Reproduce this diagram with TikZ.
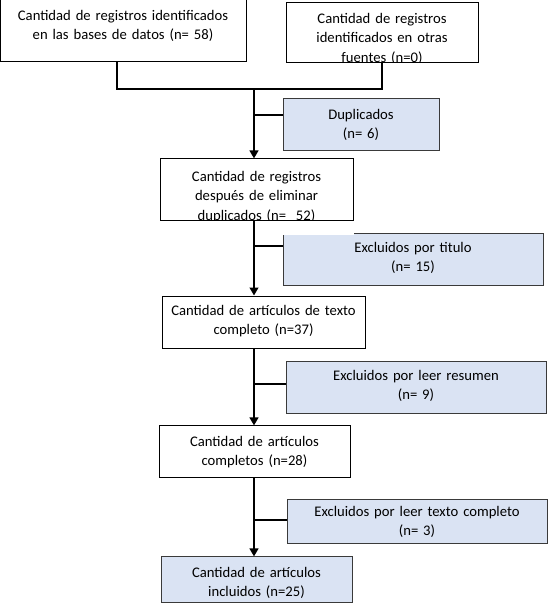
\documentclass[tikz,border=0pt]{standalone}
\usepackage{fontspec}
\setmainfont{Carlito}
\usepackage{tikz}
\usetikzlibrary{arrows.meta,calc}
\definecolor{boxblue}{HTML}{DAE3F3}
\definecolor{edge}{HTML}{3A3A3A}

\begin{document}
\begin{tikzpicture}[x=0.75pt,y=-0.75pt,
  box/.style={draw=black,line width=.75pt,fill=white,inner sep=0pt,align=center,anchor=base,font=\fontsize{11}{14.5}\selectfont},
  bluebox/.style={box,draw=edge,fill=boxblue},
  conn/.style={line width=2pt},
  arr/.style={conn,-{Triangle[length=6pt,width=6.5pt]}}]
  \useasboundingbox (0,0) rectangle (550,608);
  \node[box,text width=184.5pt,text height=15.4pt,text depth=31.1pt] (bases) at (123,20.5) {Cantidad de registros identificados\\en las bases de datos (n= 58)};
  \node[box,text width=144pt,text height=16.1pt,text depth=28.9pt] (otras) at (382,23.5) {Cantidad de registros\\identificados en otras\\fuentes (n=0)};
  \node[bluebox,text width=117pt,text height=15.4pt,text depth=22.9pt] (dup) at (361,119.5) {Duplicados\\(n= 6)};
  \node[box,text width=144.75pt,text height=16.9pt,text depth=28.9pt] (reg) at (256.5,181.5) {Cantidad de registros\\después de eliminar\\duplicados (n=\ \ 52)};
  \node[bluebox,text width=195pt,text height=14.6pt,text depth=24.4pt] (titulo) at (413,252.5) {Excluidos por titulo\\(n= 15)};
  \node[box,text width=152.25pt,text height=14.6pt,text depth=25.1pt] (texto) at (263.5,315.5) {Cantidad de artículos de texto\\completo (n=37)};
  \node[bluebox,text width=195pt,text height=13.9pt,text depth=24.4pt] (resumen) at (416,380.5) {Excluidos por leer resumen\\(n= 9)};
  \node[box,text width=143.25pt,text height=15.4pt,text depth=23.6pt] (compl) at (254.5,446.5) {Cantidad de artículos\\completos (n=28)};
  \node[bluebox,text width=195pt,text height=13.1pt,text depth=20.6pt] (leer) at (417,516.5) {Excluidos por leer texto completo\\(n= 3)};
  \node[bluebox,text width=143.25pt,text height=15.4pt,text depth=19.1pt] (incl) at (256.5,577.5) {Cantidad de artículos\\incluidos (n=25)};
  \foreach \b in {otras,reg}
    \fill[white] ($(\b.south west)+(0,0.5)$) rectangle ($(\b.south east)+(0,14)$);
  \coordinate (j) at (254,89);
  \draw[conn] ($(bases.south)+(-6,0)$) |- (j) -| (otras.south);
  \draw[arr] (j) -- (j |- reg.north);
  \foreach \u/\v in {reg/texto,texto/compl,compl/incl}
    \draw[arr] (\u.south -| j) -- (\v.north -| j);
  \foreach \b/\d in {dup/-9.5,titulo/-13,resumen/-3.5,leer/-1.5} {
    \coordinate (br) at ($(\b.west)+(0,\d)$);
    \draw[conn] (br) -- (br -| j);
  }
\end{tikzpicture}
\end{document}
